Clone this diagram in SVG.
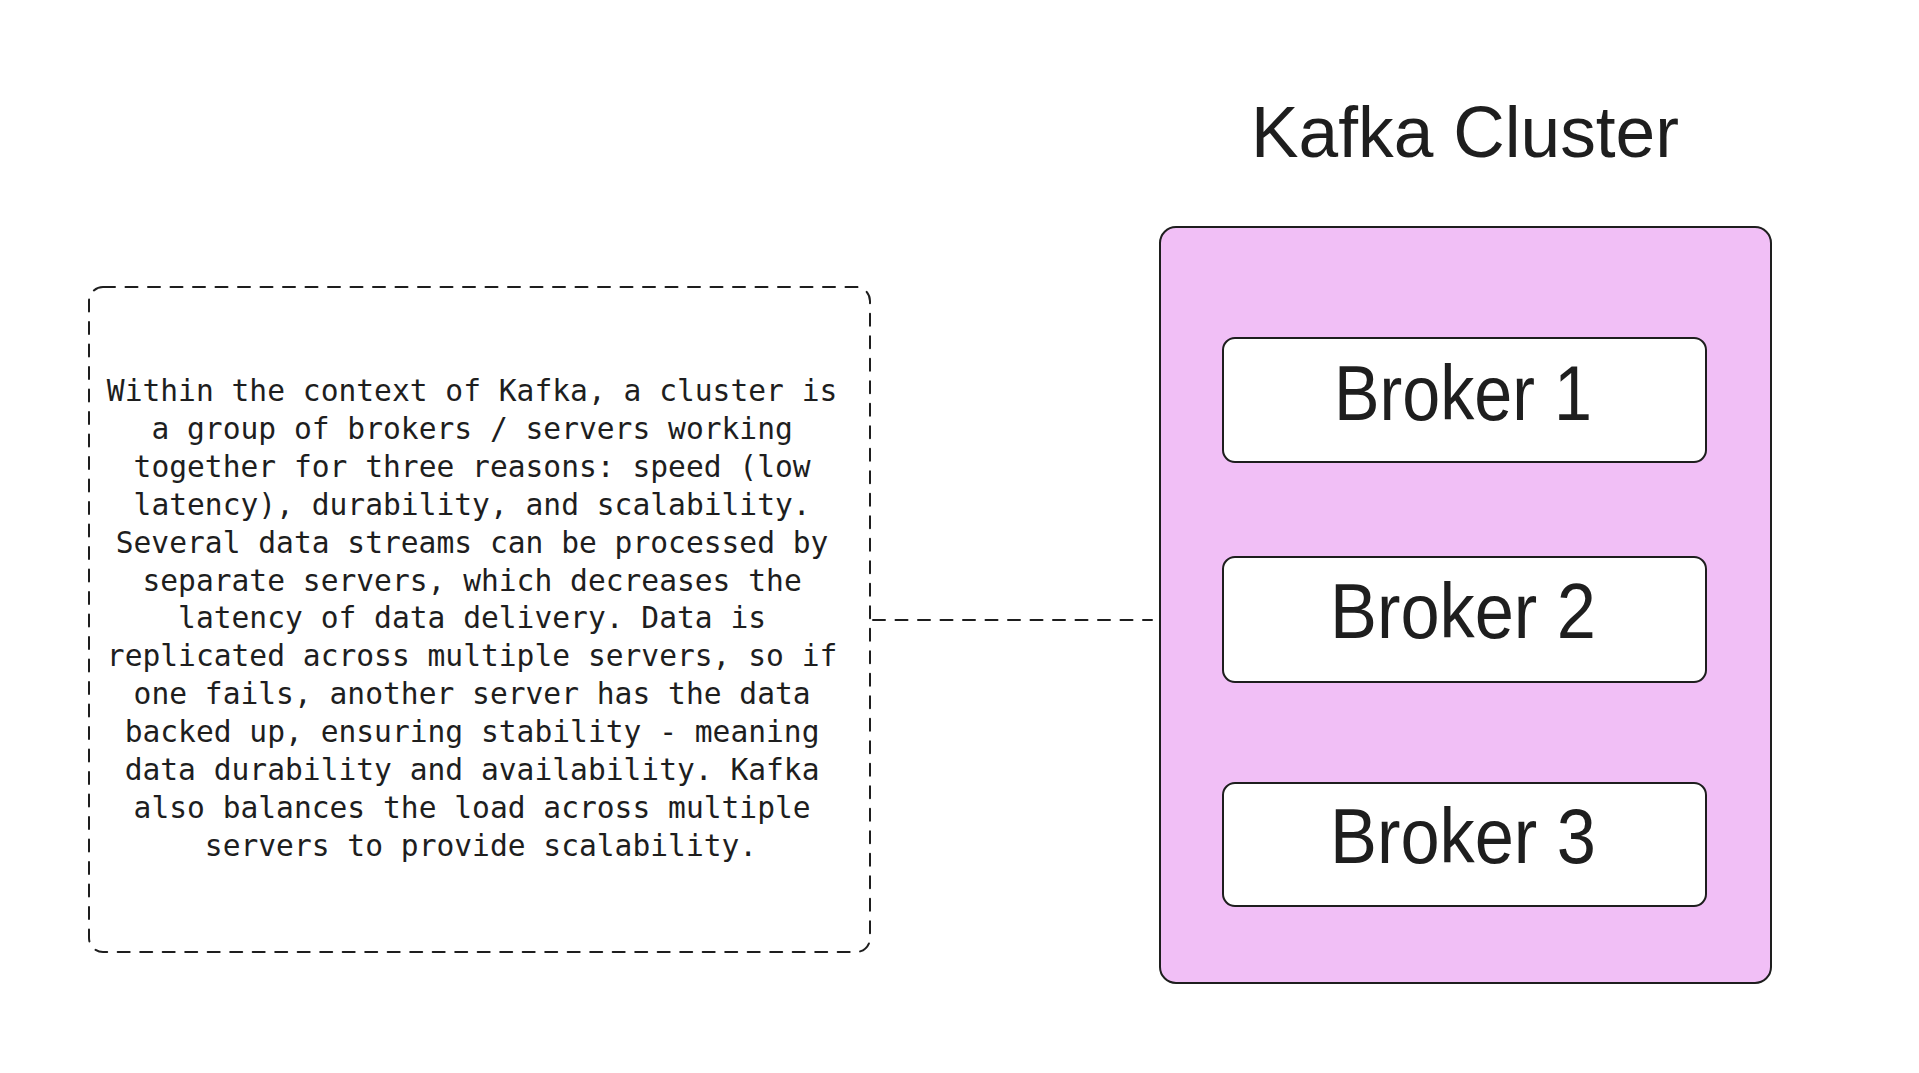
<svg xmlns="http://www.w3.org/2000/svg" width="1919" height="1073" viewBox="0 0 1919 1073">
  <style>
    .stroke { stroke: #1e1e1e; stroke-width: 2; stroke-linecap: round; stroke-linejoin: round; }
    .dashed { stroke-dasharray: 12 10.5; fill: none; }
    .mono { font-family: "DejaVu Sans Mono", "Liberation Mono", monospace; font-size: 29.6px; fill: #1e1e1e; text-anchor: middle; }
    .sans { font-family: "Liberation Sans", Arial, sans-serif; fill: #1e1e1e; text-anchor: middle; }
    .broker { font-size: 78px; }
    .title { font-size: 72px; }
  </style>
  <rect x="0" y="0" width="1919" height="1073" fill="#ffffff"/>

  <g id="connectors">
    <line class="stroke dashed" x1="873" y1="620" x2="1152" y2="620"/>
  </g>

  <g id="note">
    <rect class="stroke dashed" x="89" y="287" width="781" height="665" rx="14" ry="14"/>
    <text class="mono">
      <tspan x="481" y="401">Within the context of Kafka, a cluster is</tspan>
      <tspan x="481" y="438.9">a group of brokers / servers working</tspan>
      <tspan x="481" y="476.8">together for three reasons: speed (low</tspan>
      <tspan x="481" y="514.7">latency), durability, and scalability.</tspan>
      <tspan x="481" y="552.6">Several data streams can be processed by</tspan>
      <tspan x="481" y="590.5">separate servers, which decreases the</tspan>
      <tspan x="481" y="628.4">latency of data delivery. Data is</tspan>
      <tspan x="481" y="666.3">replicated across multiple servers, so if</tspan>
      <tspan x="481" y="704.2">one fails, another server has the data</tspan>
      <tspan x="481" y="742.1">backed up, ensuring stability - meaning</tspan>
      <tspan x="481" y="780">data durability and availability. Kafka</tspan>
      <tspan x="481" y="817.9">also balances the load across multiple</tspan>
      <tspan x="481" y="855.8">servers to provide scalability.</tspan>
    </text>
  </g>

  <g id="title">
    <text class="sans title" x="1465" y="157" textLength="428" lengthAdjust="spacingAndGlyphs">Kafka Cluster</text>
  </g>

  <g id="kafka-cluster">
    <rect class="stroke" x="1160" y="227" width="611" height="756" rx="16" ry="16" fill="#f1bff6"/>
  </g>

  <g id="broker-1">
    <rect class="stroke" x="1223" y="338" width="483" height="124" rx="12" ry="12" fill="#ffffff"/>
    <text class="sans broker" x="1463" y="420" textLength="258" lengthAdjust="spacingAndGlyphs">Broker 1</text>
  </g>

  <g id="broker-2">
    <rect class="stroke" x="1223" y="557" width="483" height="125" rx="12" ry="12" fill="#ffffff"/>
    <text class="sans broker" x="1463" y="638" textLength="266" lengthAdjust="spacingAndGlyphs">Broker 2</text>
  </g>

  <g id="broker-3">
    <rect class="stroke" x="1223" y="783" width="483" height="123" rx="12" ry="12" fill="#ffffff"/>
    <text class="sans broker" x="1463" y="863" textLength="266" lengthAdjust="spacingAndGlyphs">Broker 3</text>
  </g>
</svg>
